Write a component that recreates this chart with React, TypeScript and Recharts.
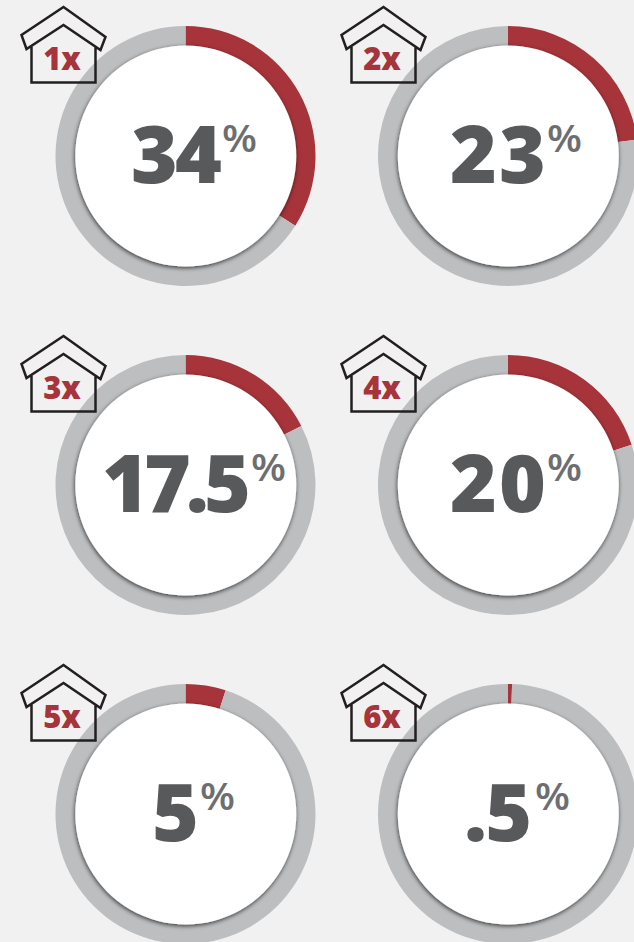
import React from "react";
import { PieChart, Pie, Cell } from "recharts";

const RED = "#a6343a";
const GRAY = "#bcbec0";

const multipliers = ["1x", "2x", "3x", "4x", "5x", "6x"];
const percents = [34, 23, 17.5, 20, 5, 0.5];
const percentLabels = ["34", "23", "17.5", "20", "5", ".5"];

// gauge layout, two columns and three rows
const centersX = [185.5, 508, 185.5, 508, 185.5, 508];
const centersY = [156, 156, 485, 485, 814, 814];
const numberX = [131, 450, 102, 450, 152, 464];
const numberSpacing = [-3, 2, -5, 2, 0, -2];
const signX = [222, 547, 251, 547, 200, 535];
const houseX = [0.5, 320.5, 0.5, 320.5, 0.5, 320.5];
const houseY = [0, 0, 329, 329, 658, 658];

const House = ({ x, y, label }: { x: number; y: number; label: string }) => (
  <g transform={`translate(${x},${y})`}>
    <path
      d="M31 45 V82.5 H95 V47 M26 49 L21 35 L63 7 L105 37 L100 50 L63 25 Z"
      fill="none"
      stroke="#231f20"
      strokeWidth={2.5}
      strokeLinejoin="miter"
    />
    <text
      x={61.5}
      y={70}
      textAnchor="middle"
      fontFamily="Open Sans"
      fontWeight={800}
      fontSize={31}
      fill={RED}
    >
      {label}
    </text>
  </g>
);

export default function App() {
  return (
    <div
      style={{
        position: "absolute",
        left: 0,
        top: 0,
        width: 634,
        height: 942,
        background: "#f1f1f1",
        overflow: "hidden",
      }}
    >
      <PieChart width={634} height={942} margin={{ top: 0, right: 0, bottom: 0, left: 0 }}>
        <defs>
          <filter id="discShadow" x="-10%" y="-10%" width="120%" height="120%">
            <feDropShadow dx={-0.5} dy={1.5} stdDeviation={2} floodColor="#000" floodOpacity={0.7} />
          </filter>
        </defs>
        {percents.map((p, i) => (
          <Pie
            key={multipliers[i]}
            data={[
              { name: "share", value: p },
              { name: "rest", value: 100 - p },
            ]}
            dataKey="value"
            cx={centersX[i]}
            cy={centersY[i]}
            innerRadius={105}
            outerRadius={130}
            startAngle={90}
            endAngle={-270}
            stroke="none"
            isAnimationActive={false}
          >
            <Cell fill={RED} />
            <Cell fill={GRAY} />
          </Pie>
        ))}
        {percents.map((p, i) => (
          <Pie
            key={`disc-${multipliers[i]}`}
            data={[{ name: "disc", value: 100 }]}
            dataKey="value"
            cx={centersX[i] + 0.3}
            cy={centersY[i]}
            innerRadius={0}
            outerRadius={110.5}
            startAngle={90}
            endAngle={-270}
            stroke="none"
            isAnimationActive={false}
          >
            <Cell fill="#fff" filter="url(#discShadow)" />
          </Pie>
        ))}
      </PieChart>
      {/* text and houses sit above the pies, recharts draws its own children underneath */}
      <svg
        width={634}
        height={942}
        style={{ position: "absolute", left: 0, top: 0 }}
      >
        {percents.map((p, i) => (
          <g key={`label-${i}`}>
            <text
              x={numberX[i]}
              y={centersY[i] + 27}
              fontFamily="Open Sans"
              fontWeight={800}
              fontSize={80}
              letterSpacing={numberSpacing[i]}
              fill="#58595b"
            >
              {percentLabels[i]}
            </text>
            <text
              x={signX[i]}
              y={centersY[i] - 4.5}
              fontFamily="Open Sans"
              fontWeight={600}
              fontSize={38}
              textLength={35}
              lengthAdjust="spacingAndGlyphs"
              fill="#6d6e71"
            >
              %
            </text>
            <House x={houseX[i]} y={houseY[i]} label={multipliers[i]} />
          </g>
        ))}
      </svg>
    </div>
  );
}
